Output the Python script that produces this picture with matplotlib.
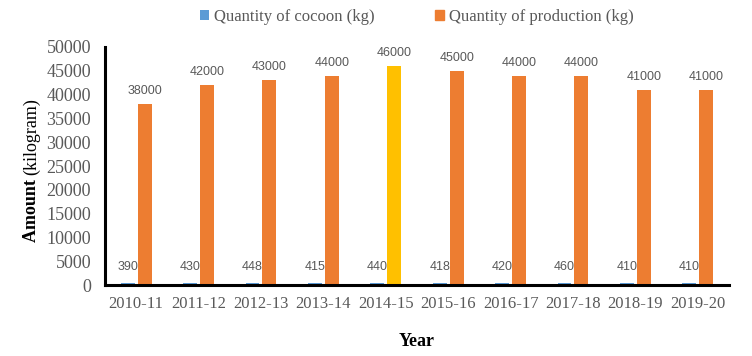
import matplotlib
matplotlib.use("Agg")
import matplotlib.pyplot as plt
import numpy as np

years = ["2010-11", "2011-12", "2012-13", "2013-14", "2014-15",
         "2015-16", "2016-17", "2017-18", "2018-19", "2019-20"]
cocoon = [390, 430, 448, 415, 440, 418, 420, 460, 410, 410]
production = [38000, 42000, 43000, 44000, 46000, 45000, 44000, 44000, 41000, 41000]
highlight = "2014-15"
series_names = ["Quantity of cocoon (kg)", "Quantity of production (kg)"]

BLUE = "#5B9BD5"
ORANGE = "#ED7D31"
GOLD = "#FFC000"
GREY = "#595959"
SERIF = ["Liberation Serif", "DejaVu Serif"]

fig = plt.figure(figsize=(7.52, 3.56), dpi=100)
ax = fig.add_axes([0.1396, 0.1994, 0.8298, 0.6686])

x = np.arange(len(years))
w = 0.224
off = 0.136
prod_colors = [GOLD if y == highlight else ORANGE for y in years]
b1 = ax.bar(x - off, cocoon, w, color=BLUE)
b2 = ax.bar(x + off, production, w, color=prod_colors)

for xi, v in zip(x - off, cocoon):
    ax.annotate(str(v), (xi, v), xytext=(0, 7), textcoords="offset points",
                ha="center", va="bottom", fontsize=9, color=GREY,
                family="Liberation Sans")
for xi, v in zip(x + off, production):
    ax.annotate(str(v), (xi, v), xytext=(0, 5), textcoords="offset points",
                ha="center", va="bottom", fontsize=9, color=GREY,
                family="Liberation Sans")

ax.set_xlim(-0.5, len(years) - 0.5)
ax.set_ylim(0, 50000)
ax.set_yticks(np.arange(0, 50001, 5000))
ax.set_xticks(x)
ax.set_xticklabels(years)
ax.tick_params(length=0)
ax.tick_params(axis="x", labelsize=12, labelcolor=GREY, pad=8)
ax.tick_params(axis="y", labelsize=13, labelcolor=GREY, pad=10)
for lab in ax.get_xticklabels() + ax.get_yticklabels():
    lab.set_family(SERIF)

for s in ["top", "right"]:
    ax.spines[s].set_visible(False)
for s in ["left", "bottom"]:
    ax.spines[s].set_linewidth(2.2)
    ax.spines[s].set_color("black")

# y label: bold "Amount" + regular "(kilogram)"
t1 = fig.text(32 / 752, 1 - 242 / 356, "Amount ", rotation=90, fontsize=13,
              fontweight="bold", family=SERIF, ha="center", va="bottom")
ax.annotate("(kilogram)", xy=(0.5, 1), xycoords=t1, rotation=90, fontsize=13,
            family=SERIF, ha="center", va="bottom")

ax.set_xlabel("Year", fontsize=13, fontweight="bold", family=SERIF, labelpad=15)

leg = ax.legend([b1, b2[0]], series_names, loc="center", bbox_to_anchor=(0.5, 1.126),
                ncol=2, frameon=False, handlelength=0.55, handleheight=0.55,
                handletextpad=0.3, columnspacing=3.6,
                prop={"family": SERIF, "size": 12})
leg.legend_handles[1].set_color(ORANGE)
for t in leg.get_texts():
    t.set_color(GREY)

fig.savefig("out.png", dpi=100)
